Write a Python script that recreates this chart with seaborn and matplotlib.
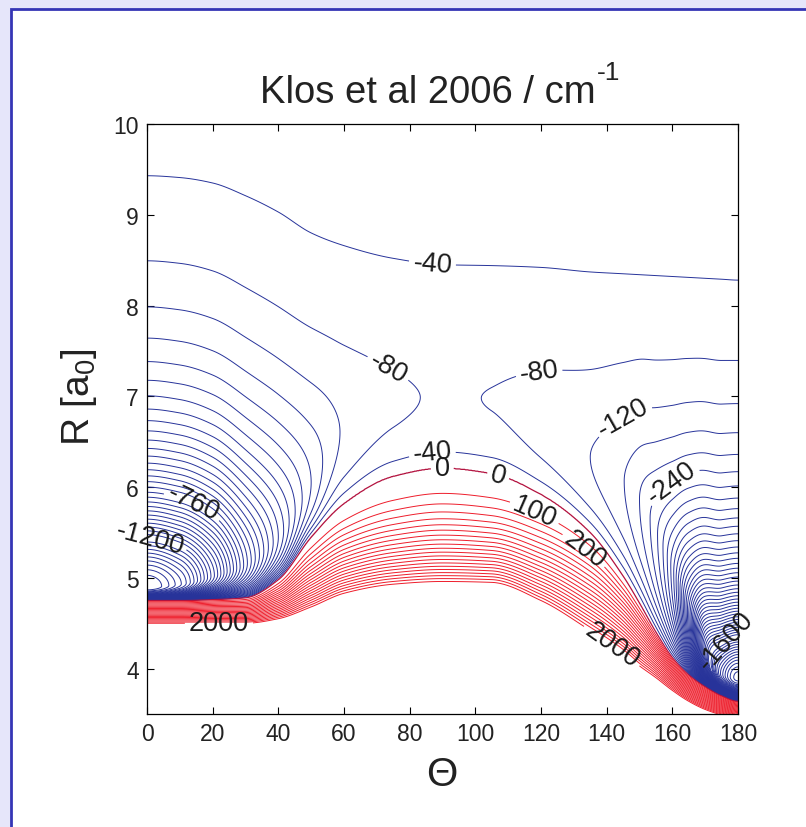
import numpy as np
import matplotlib
matplotlib.use("Agg")
import matplotlib.pyplot as plt
from matplotlib.patches import Rectangle
import seaborn as sns

# ---------------------------------------------------------------------------
# Radial parameters of the potential surface, tabulated against the angle
# ---------------------------------------------------------------------------
theta_nodes = [0, 10, 20, 30, 40, 50, 60, 75, 90, 105, 120, 135, 145, 150, 155, 160, 165, 170, 175, 180]
well_depth = [1600, 1450, 1100, 700, 400, 200, 115, 86, 78, 81, 95, 120, 158, 200, 270, 420, 800, 1450, 1900, 2100]
well_radius = [4.90, 4.93, 5.02, 5.15, 5.45, 6.05, 6.65, 6.95, 7.00, 6.97, 6.72, 6.33, 6.08, 5.87, 5.52, 5.10, 4.60, 4.17, 3.94, 3.90]
outer_radius_m40 = [9.43, 9.41, 9.35, 9.21, 9.03, 8.80, 8.66, 8.52, 8.45, 8.44, 8.42, 8.37, 8.35, 8.34, 8.33, 8.32, 8.31, 8.30, 8.29, 8.28]
zero_radius = [4.75, 4.75, 4.76, 4.78, 4.98, 5.45, 5.82, 6.12, 6.21, 6.15, 5.92, 5.50, 5.02, 4.72, 4.40, 4.12, 3.93, 3.80, 3.70, 3.64]
radius_2000 = [4.50, 4.50, 4.50, 4.50, 4.55, 4.68, 4.83, 4.93, 4.96, 4.95, 4.75, 4.42, 4.18, 4.03, 3.90, 3.76, 3.64, 3.55, 3.49, 3.45]
wall_power = [1.0, 1.0, 1.0, 1.1, 1.3, 1.6, 1.8, 2.0, 2.0, 2.0, 1.8, 1.5, 1.3, 1.2, 1.1, 1.0, 1.0, 1.0, 1.0, 1.0]

# contour levels in cm^-1
attractive_levels = list(range(-2080, 0, 40))
repulsive_levels = list(range(100, 2100, 100))

# labelled contours: level and position (theta, R)
label_levels = [-40, -40, -80, -80, -120, -240, -760, -1200, -1600, 0, 0, 100, 200, 2000, 2000]
label_theta = [86.9, 86.9, 73.3, 119.5, 145.6, 162.0, 15.2, 0.8, 176.5, 90.0, 106.7, 118.0, 132.8, 21.9, 141.6]
label_r = [8.45, 6.37, 7.30, 7.24, 6.73, 5.92, 5.90, 5.42, 4.30, 6.19, 6.10, 5.72, 5.29, 4.47, 4.25]

x_ticks = [0, 20, 40, 60, 80, 100, 120, 140, 160, 180]
y_ticks = [4, 5, 6, 7, 8, 9, 10]

BLUE = "#27339A"
RED = "#EE1D2B"
ZERO = "#B3123F"

sns.set_theme(style="ticks")
plt.rcParams["font.family"] = ["Liberation Sans", "DejaVu Sans"]
plt.rcParams["mathtext.fontset"] = "custom"
plt.rcParams["mathtext.rm"] = "Liberation Sans"
plt.rcParams["mathtext.it"] = "Liberation Sans:italic"
plt.rcParams["contour.negative_linestyle"] = "solid"


def pchip(xk, yk, x):
    """Monotone cubic Hermite interpolation with flat ends (even in theta)."""
    xk = np.asarray(xk, float)
    yk = np.asarray(yk, float)
    h = np.diff(xk)
    delta = np.diff(yk) / h
    d = np.zeros_like(yk)
    for k in range(1, len(xk) - 1):
        if delta[k - 1] * delta[k] > 0:
            w1 = 2 * h[k] + h[k - 1]
            w2 = h[k] + 2 * h[k - 1]
            d[k] = (w1 + w2) / (w1 / delta[k - 1] + w2 / delta[k])
    idx = np.clip(np.searchsorted(xk, x, side="right") - 1, 0, len(xk) - 2)
    t = (x - xk[idx]) / h[idx]
    h00 = 2 * t**3 - 3 * t**2 + 1
    h10 = t**3 - 2 * t**2 + t
    h01 = -2 * t**3 + 3 * t**2
    h11 = t**3 - t**2
    return (h00 * yk[idx] + h10 * h[idx] * d[idx]
            + h01 * yk[idx + 1] + h11 * h[idx] * d[idx + 1])


theta = np.linspace(0, 180, 721)
r = np.linspace(3.5, 10, 1301)
T, RR = np.meshgrid(theta, r)

De = np.exp(pchip(theta_nodes, np.log(well_depth), theta))
Re = pchip(theta_nodes, well_radius, theta)
R40 = pchip(theta_nodes, outer_radius_m40, theta)
R0 = pchip(theta_nodes, zero_radius, theta)
R2 = pchip(theta_nodes, radius_2000, theta)
pw = pchip(theta_nodes, wall_power, theta)

# exponents fixed by the -40 crossing (outer) and the zero crossing (inner)
y40 = 1 - np.sqrt(1 - 40.0 / De)
n_out = np.log(y40) / np.log(Re / R40)
m_in = np.log(2.0) / np.log(Re / R0)

y = (Re / RR) ** n_out
V_out = De * (y * y - 2 * y)
z = (Re / RR) ** m_in
V_in = De * (z * z - 2 * z)
s = np.clip((R0 - RR) / (R0 - R2), 0, None)
V_rep = 2000.0 * s ** pw
V = np.where(RR >= Re, V_out, np.where(RR >= R0, V_in, V_rep))

# ---------------------------------------------------------------------------
W, H = 806, 828
fig = plt.figure(figsize=(W / 100, H / 100), dpi=100)
fig.patch.set_facecolor("#E6E6FA")
panel = Rectangle((11 / W, -0.1), 1.2, 1 - 10 / H + 0.1, transform=fig.transFigure,
                  facecolor="white", edgecolor="#3535B5", linewidth=2.0, zorder=-5)
fig.patches.append(panel)

ax = fig.add_axes([147 / W, 1 - 715 / H, (738 - 147) / W, (715 - 125) / H])
ax.set_facecolor("white")


def level_colour(lev):
    if lev < 0:
        return BLUE
    return ZERO if lev == 0 else RED


labelled = sorted(set(label_levels))
plain_levels = [lv for lv in attractive_levels + repulsive_levels if lv not in labelled]
plain_neg = [lv for lv in plain_levels if lv < 0]
plain_pos = [lv for lv in plain_levels if lv > 0]

ax.contour(T, RR, V, levels=plain_neg, colors=BLUE, linewidths=0.7, linestyles="solid")
ax.contour(T, RR, V, levels=plain_pos, colors=RED, linewidths=0.7, linestyles="solid")

# each labelled level is its own contour set so its label can cut the line
for lev in labelled:
    cs = ax.contour(T, RR, V, levels=[lev], colors=level_colour(lev),
                    linewidths=0.9 if lev == 0 else 0.7, linestyles="solid")
    spots = [(th, rr) for lv, th, rr in zip(label_levels, label_theta, label_r) if lv == lev]
    texts = ax.clabel(cs, levels=[lev], manual=spots, fmt="%d", fontsize=19.5,
                      colors="#1a1a1a", inline=True, inline_spacing=4)
    for t in texts:
        t.set_clip_on(False)

ax.set_xlim(0, 180)
ax.set_ylim(3.5, 10)
ax.set_xticks(x_ticks)
ax.set_yticks(y_ticks)
ax.tick_params(direction="in", length=5, width=0.8, top=True, right=True,
               labelsize=16.5, pad=6, colors="black", labelcolor="#222222")
for sp in ax.spines.values():
    sp.set_visible(True)
    sp.set_color("black")
    sp.set_linewidth(0.9)

fig.text(442 / W, 1 - 775 / H, "\u0398", fontsize=29, ha="center", va="center", color="#222222")
fig.text(79 / W, 1 - 397 / H, r"R [a$_\mathregular{0}$]", fontsize=28, rotation=90,
         ha="center", va="center", color="#222222")

# title with a superscript unit exponent
t_main = fig.text(0, 1 - 103 / H, "Klos et al 2006 / cm", fontsize=27.5,
                  ha="left", va="baseline", color="#222222")
t_sup = fig.text(0, 1 - 80 / H, "-1", fontsize=19, ha="left", va="baseline", color="#222222")
renderer = fig.canvas.get_renderer()
w1 = t_main.get_window_extent(renderer).width
w2 = t_sup.get_window_extent(renderer).width
x0 = 440 - (w1 + w2) / 2
t_main.set_x(x0 / W)
t_sup.set_x((x0 + w1 + 1) / W)

fig.savefig("out.png", dpi=100, facecolor=fig.get_facecolor())
